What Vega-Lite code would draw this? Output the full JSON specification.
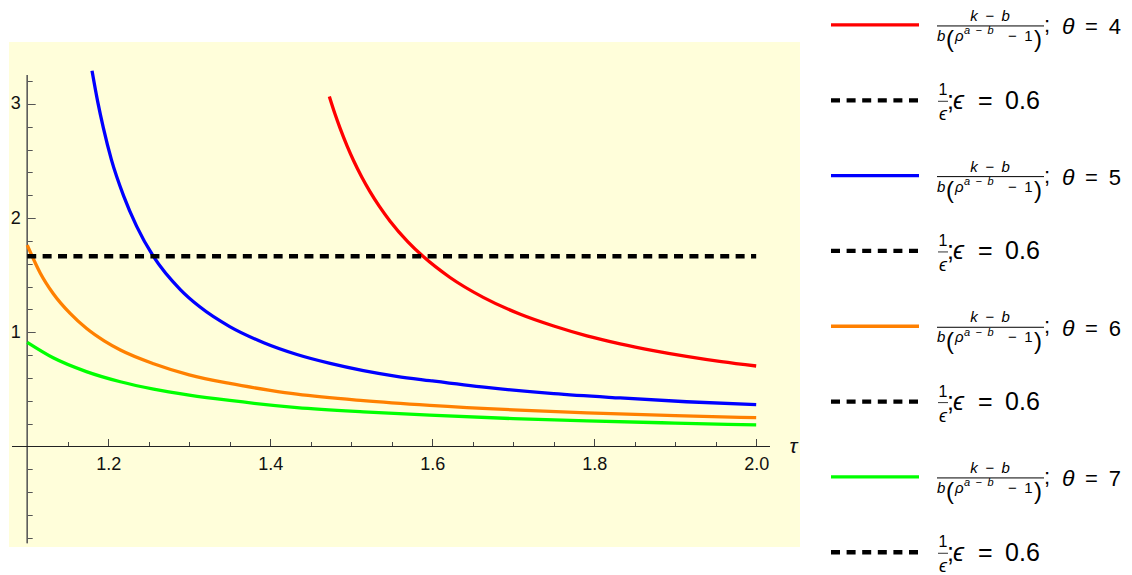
{
  "$schema": "https://vega.github.io/schema/vega-lite/v6.json",
  "width": 791,
  "height": 505,
  "autosize": {"type": "none"},
  "padding": {"left": 9, "top": 42, "right": 332, "bottom": 28},
  "background": "#FFFFFF",
  "view": {"fill": "#FFFEDA", "stroke": null},
  "config": {
    "font": "Liberation Sans",
    "axis": {"grid": false},
    "text": {"font": "Liberation Sans", "color": "#000000"}
  },
  "datasets": {
    "curves": [
      {"tau": 1.473, "value": 3.065, "series": "θ = 4"},
      {"tau": 1.480, "value": 2.911, "series": "θ = 4"},
      {"tau": 1.486, "value": 2.792, "series": "θ = 4"},
      {"tau": 1.495, "value": 2.63, "series": "θ = 4"},
      {"tau": 1.503, "value": 2.502, "series": "θ = 4"},
      {"tau": 1.513, "value": 2.36, "series": "θ = 4"},
      {"tau": 1.523, "value": 2.234, "series": "θ = 4"},
      {"tau": 1.535, "value": 2.10, "series": "θ = 4"},
      {"tau": 1.548, "value": 1.973, "series": "θ = 4"},
      {"tau": 1.570, "value": 1.792, "series": "θ = 4"},
      {"tau": 1.589, "value": 1.663, "series": "θ = 4"},
      {"tau": 1.622, "value": 1.48, "series": "θ = 4"},
      {"tau": 1.663, "value": 1.306, "series": "θ = 4"},
      {"tau": 1.708, "value": 1.16, "series": "θ = 4"},
      {"tau": 1.750, "value": 1.055, "series": "θ = 4"},
      {"tau": 1.791, "value": 0.969, "series": "θ = 4"},
      {"tau": 1.832, "value": 0.899, "series": "θ = 4"},
      {"tau": 1.873, "value": 0.84, "series": "θ = 4"},
      {"tau": 1.914, "value": 0.789, "series": "θ = 4"},
      {"tau": 1.957, "value": 0.743, "series": "θ = 4"},
      {"tau": 2.000, "value": 0.705, "series": "θ = 4"},
      {"tau": 1.180, "value": 3.29, "series": "θ = 5"},
      {"tau": 1.187, "value": 3.02, "series": "θ = 5"},
      {"tau": 1.194, "value": 2.79, "series": "θ = 5"},
      {"tau": 1.204, "value": 2.51, "series": "θ = 5"},
      {"tau": 1.219, "value": 2.195, "series": "θ = 5"},
      {"tau": 1.235, "value": 1.93, "series": "θ = 5"},
      {"tau": 1.256, "value": 1.662, "series": "θ = 5"},
      {"tau": 1.289, "value": 1.374, "series": "θ = 5"},
      {"tau": 1.313, "value": 1.223, "series": "θ = 5"},
      {"tau": 1.350, "value": 1.05, "series": "θ = 5"},
      {"tau": 1.392, "value": 0.909, "series": "θ = 5"},
      {"tau": 1.433, "value": 0.806, "series": "θ = 5"},
      {"tau": 1.474, "value": 0.728, "series": "θ = 5"},
      {"tau": 1.515, "value": 0.665, "series": "θ = 5"},
      {"tau": 1.556, "value": 0.615, "series": "θ = 5"},
      {"tau": 1.597, "value": 0.577, "series": "θ = 5"},
      {"tau": 1.667, "value": 0.517, "series": "θ = 5"},
      {"tau": 1.750, "value": 0.463, "series": "θ = 5"},
      {"tau": 1.832, "value": 0.425, "series": "θ = 5"},
      {"tau": 1.914, "value": 0.392, "series": "θ = 5"},
      {"tau": 2.000, "value": 0.366, "series": "θ = 5"},
      {"tau": 1.100, "value": 1.764, "series": "θ = 6"},
      {"tau": 1.116, "value": 1.52, "series": "θ = 6"},
      {"tau": 1.132, "value": 1.34, "series": "θ = 6"},
      {"tau": 1.153, "value": 1.165, "series": "θ = 6"},
      {"tau": 1.173, "value": 1.035, "series": "θ = 6"},
      {"tau": 1.195, "value": 0.925, "series": "θ = 6"},
      {"tau": 1.215, "value": 0.845, "series": "θ = 6"},
      {"tau": 1.256, "value": 0.725, "series": "θ = 6"},
      {"tau": 1.300, "value": 0.628, "series": "θ = 6"},
      {"tau": 1.350, "value": 0.552, "series": "θ = 6"},
      {"tau": 1.400, "value": 0.492, "series": "θ = 6"},
      {"tau": 1.433, "value": 0.458, "series": "θ = 6"},
      {"tau": 1.515, "value": 0.401, "series": "θ = 6"},
      {"tau": 1.597, "value": 0.360, "series": "θ = 6"},
      {"tau": 1.700, "value": 0.321, "series": "θ = 6"},
      {"tau": 1.791, "value": 0.295, "series": "θ = 6"},
      {"tau": 1.900, "value": 0.270, "series": "θ = 6"},
      {"tau": 2.000, "value": 0.252, "series": "θ = 6"},
      {"tau": 1.100, "value": 0.912, "series": "θ = 7"},
      {"tau": 1.132, "value": 0.777, "series": "θ = 7"},
      {"tau": 1.173, "value": 0.656, "series": "θ = 7"},
      {"tau": 1.215, "value": 0.567, "series": "θ = 7"},
      {"tau": 1.256, "value": 0.502, "series": "θ = 7"},
      {"tau": 1.300, "value": 0.450, "series": "θ = 7"},
      {"tau": 1.350, "value": 0.403, "series": "θ = 7"},
      {"tau": 1.433, "value": 0.341, "series": "θ = 7"},
      {"tau": 1.515, "value": 0.303, "series": "θ = 7"},
      {"tau": 1.597, "value": 0.274, "series": "θ = 7"},
      {"tau": 1.700, "value": 0.244, "series": "θ = 7"},
      {"tau": 1.791, "value": 0.224, "series": "θ = 7"},
      {"tau": 1.900, "value": 0.205, "series": "θ = 7"},
      {"tau": 2.000, "value": 0.189, "series": "θ = 7"}
    ],
    "eps": [
      {"tau": 1.1, "value": 1.6667},
      {"tau": 2.0, "value": 1.6667}
    ],
    "legend": [
      {"entry": 0, "kind": "curve", "series": "θ = 4", "eq": "=\u20024"},
      {"entry": 1, "kind": "eps", "series": "1/ϵ", "eq": "=\u20020.6"},
      {"entry": 2, "kind": "curve", "series": "θ = 5", "eq": "=\u20025"},
      {"entry": 3, "kind": "eps", "series": "1/ϵ", "eq": "=\u20020.6"},
      {"entry": 4, "kind": "curve", "series": "θ = 6", "eq": "=\u20026"},
      {"entry": 5, "kind": "eps", "series": "1/ϵ", "eq": "=\u20020.6"},
      {"entry": 6, "kind": "curve", "series": "θ = 7", "eq": "=\u20027"},
      {"entry": 7, "kind": "eps", "series": "1/ϵ", "eq": "=\u20020.6"}
    ]
  },
  "layer": [
    {
      "layer": [
        {
          "data": {"name": "eps"},
          "mark": {"type": "rule", "color": "#5a5a5a", "strokeWidth": 1.2},
          "encoding": {
            "x": {"datum": 1.1, "type": "quantitative", "axis": null},
            "y": {"datum": -0.848, "type": "quantitative", "axis": null},
            "y2": {"datum": 3.253}
          }
        },
        {
          "data": {"name": "eps"},
          "mark": {"type": "rule", "color": "#222222", "strokeWidth": 1.1},
          "encoding": {
            "x": {"datum": 1.0812, "type": "quantitative", "axis": null},
            "x2": {"datum": 2.017},
            "y": {"datum": 0, "type": "quantitative", "axis": null}
          }
        },
        {
          "data": {"name": "curves"},
          "mark": {"type": "line", "strokeWidth": 3.3, "interpolate": "monotone"},
          "encoding": {
            "x": {
              "field": "tau", "type": "quantitative",
              "scale": {"domain": [1.0775, 2.0541], "nice": false, "zero": false},
              "axis": {
                "orient": "bottom",
                "offset": -100.5,
                "domain": false,
                "values": [1.2, 1.4, 1.6, 1.8, 2.0],
                "format": ".1f",
                "tickSize": -8,
                "tickColor": "#444444",
                "tickWidth": 1,
                "labelFont": "Liberation Sans",
                "labelFontSize": 18,
                "labelColor": "#111111",
                "labelPadding": 16.5,
                "labelFlush": false,
                "labelOverlap": false,
                "labelBaseline": "top",
                "title": "τ",
                "titleFont": "Liberation Sans",
                "titleFontSize": 21,
                "titleFontStyle": "italic",
                "titleFontWeight": "normal",
                "titleColor": "#111111",
                "titleAlign": "center",
                "titleBaseline": "alphabetic",
                "titleX": 784,
                "titleY": 6.2
              }
            },
            "y": {
              "field": "value", "type": "quantitative",
              "scale": {"domain": [-0.880, 3.542], "nice": false, "zero": false},
              "axis": {
                "orient": "left",
                "offset": -18.2,
                "domain": false,
                "values": [1, 2, 3],
                "format": "d",
                "tickSize": -8,
                "tickColor": "#555555",
                "tickWidth": 1,
                "labelFont": "Liberation Sans",
                "labelFontSize": 18,
                "labelColor": "#111111",
                "labelPadding": 15,
                "labelFlush": false,
                "labelOverlap": false,
                "labelAlign": "right",
                "labelBaseline": "middle",
                "title": null
              }
            },
            "color": {
              "field": "series", "type": "nominal",
              "scale": {"domain": ["θ = 4", "θ = 5", "θ = 6", "θ = 7"], "range": ["#FF0000", "#0000FF", "#FF8000", "#00FF00"]},
              "legend": null
            }
          }
        },
        {
          "data": {"name": "eps"},
          "mark": {"type": "line", "color": "#000000", "strokeWidth": 4.5, "strokeDash": [9, 6.4]},
          "encoding": {
            "x": {
              "field": "tau", "type": "quantitative",
              "axis": {
                "orient": "bottom",
                "offset": -100.5,
                "domain": false,
                "values": [1.15, 1.25, 1.3, 1.35, 1.45, 1.5, 1.55, 1.65, 1.7, 1.75, 1.85, 1.9, 1.95],
                "tickSize": -5,
                "tickColor": "#444444",
                "tickWidth": 1,
                "labels": false,
                "title": null
              }
            },
            "y": {
              "field": "value", "type": "quantitative",
              "axis": {
                "orient": "left",
                "offset": -18.2,
                "domain": false,
                "values": [-0.8, -0.6, -0.4, -0.2, 0.2, 0.4, 0.6, 0.8, 1.2, 1.4, 1.6, 1.8, 2.2, 2.4, 2.6, 2.8, 3.2],
                "tickSize": -5,
                "tickColor": "#555555",
                "tickWidth": 1,
                "labels": false,
                "title": null
              }
            }
          }
        }
      ],
      "resolve": {"axis": {"x": "independent", "y": "independent"}}
    },
    {
      "data": {"name": "legend"},
      "encoding": {
        "y": {"field": "entry", "type": "quantitative", "scale": {"domain": [0.2263, 6.9301], "reverse": true, "nice": false, "zero": false}, "axis": null}
      },
      "layer": [
        {
          "transform": [{"filter": "datum.kind == 'curve'"}],
          "mark": {"type": "rule", "strokeWidth": 3.3},
          "encoding": {
            "x": {"datum": 831, "type": "quantitative", "scale": {"domain": [9, 800], "nice": false, "zero": false}, "axis": null},
            "x2": {"datum": 919},
            "color": {"field": "series", "type": "nominal", "legend": null}
          }
        },
        {
          "transform": [{"filter": "datum.kind == 'eps'"}],
          "mark": {"type": "rule", "strokeWidth": 4.3, "color": "#000000", "strokeDash": [9, 6.6]},
          "encoding": {
            "x": {"datum": 831, "type": "quantitative", "scale": {"domain": [9, 800], "nice": false, "zero": false}, "axis": null},
            "x2": {"datum": 919}
          }
        },
        {
          "transform": [{"filter": "datum.kind == 'curve'"}],
          "mark": {"type": "text", "text": "k\u2002−\u2002b", "align": "center", "baseline": "alphabetic", "dy": -4, "fontSize": 15, "fontStyle": "italic"},
          "encoding": {"x": {"datum": 990, "type": "quantitative", "scale": {"domain": [9, 800], "nice": false, "zero": false}, "axis": null}}
        },
        {
          "transform": [{"filter": "datum.kind == 'curve'"}],
          "mark": {"type": "rule", "strokeWidth": 1, "color": "#000000", "yOffset": 1},
          "encoding": {
            "x": {"datum": 937, "type": "quantitative", "scale": {"domain": [9, 800], "nice": false, "zero": false}, "axis": null},
            "x2": {"datum": 1044}
          }
        },
        {
          "transform": [{"filter": "datum.kind == 'curve'"}],
          "mark": {"type": "text", "text": "b", "align": "left", "baseline": "alphabetic", "dy": 16, "fontSize": 15, "fontStyle": "italic"},
          "encoding": {"x": {"datum": 937, "type": "quantitative", "scale": {"domain": [9, 800], "nice": false, "zero": false}, "axis": null}}
        },
        {
          "transform": [{"filter": "datum.kind == 'curve'"}],
          "mark": {"type": "text", "text": "(", "align": "left", "baseline": "alphabetic", "dy": 22.5, "fontSize": 24},
          "encoding": {"x": {"datum": 946, "type": "quantitative", "scale": {"domain": [9, 800], "nice": false, "zero": false}, "axis": null}}
        },
        {
          "transform": [{"filter": "datum.kind == 'curve'"}],
          "mark": {"type": "text", "text": "ρ", "align": "left", "baseline": "alphabetic", "dy": 16, "fontSize": 15, "fontStyle": "italic"},
          "encoding": {"x": {"datum": 955, "type": "quantitative", "scale": {"domain": [9, 800], "nice": false, "zero": false}, "axis": null}}
        },
        {
          "transform": [{"filter": "datum.kind == 'curve'"}],
          "mark": {"type": "text", "text": "a\u2002−\u2002b", "align": "left", "baseline": "alphabetic", "dy": 9.3, "fontSize": 11, "fontStyle": "italic"},
          "encoding": {"x": {"datum": 964, "type": "quantitative", "scale": {"domain": [9, 800], "nice": false, "zero": false}, "axis": null}}
        },
        {
          "transform": [{"filter": "datum.kind == 'curve'"}],
          "mark": {"type": "text", "text": "−\u20021", "align": "left", "baseline": "alphabetic", "dy": 16, "fontSize": 15},
          "encoding": {"x": {"datum": 1008, "type": "quantitative", "scale": {"domain": [9, 800], "nice": false, "zero": false}, "axis": null}}
        },
        {
          "transform": [{"filter": "datum.kind == 'curve'"}],
          "mark": {"type": "text", "text": ")", "align": "left", "baseline": "alphabetic", "dy": 22.5, "fontSize": 24},
          "encoding": {"x": {"datum": 1034, "type": "quantitative", "scale": {"domain": [9, 800], "nice": false, "zero": false}, "axis": null}}
        },
        {
          "transform": [{"filter": "datum.kind == 'curve'"}],
          "mark": {"type": "text", "text": ";", "align": "left", "baseline": "alphabetic", "dy": 7, "fontSize": 22},
          "encoding": {"x": {"datum": 1044, "type": "quantitative", "scale": {"domain": [9, 800], "nice": false, "zero": false}, "axis": null}}
        },
        {
          "transform": [{"filter": "datum.kind == 'curve'"}],
          "mark": {"type": "text", "text": "θ", "align": "left", "baseline": "alphabetic", "dy": 9.3, "fontSize": 23, "fontStyle": "italic"},
          "encoding": {"x": {"datum": 1062, "type": "quantitative", "scale": {"domain": [9, 800], "nice": false, "zero": false}, "axis": null}}
        },
        {
          "transform": [{"filter": "datum.kind == 'curve'"}],
          "mark": {"type": "text", "align": "left", "baseline": "alphabetic", "dy": 9.3, "fontSize": 22},
          "encoding": {
            "x": {"datum": 1085, "type": "quantitative", "scale": {"domain": [9, 800], "nice": false, "zero": false}, "axis": null},
            "text": {"field": "eq"}
          }
        },
        {
          "transform": [{"filter": "datum.kind == 'eps'"}],
          "mark": {"type": "text", "text": "1", "align": "center", "baseline": "alphabetic", "dy": -5, "fontSize": 16},
          "encoding": {"x": {"datum": 943, "type": "quantitative", "scale": {"domain": [9, 800], "nice": false, "zero": false}, "axis": null}}
        },
        {
          "transform": [{"filter": "datum.kind == 'eps'"}],
          "mark": {"type": "rule", "strokeWidth": 0.8, "color": "#000000", "yOffset": 1},
          "encoding": {
            "x": {"datum": 938, "type": "quantitative", "scale": {"domain": [9, 800], "nice": false, "zero": false}, "axis": null},
            "x2": {"datum": 948}
          }
        },
        {
          "transform": [{"filter": "datum.kind == 'eps'"}],
          "mark": {"type": "text", "text": "ϵ", "align": "center", "baseline": "alphabetic", "dy": 20, "fontSize": 18, "fontStyle": "italic"},
          "encoding": {"x": {"datum": 943, "type": "quantitative", "scale": {"domain": [9, 800], "nice": false, "zero": false}, "axis": null}}
        },
        {
          "transform": [{"filter": "datum.kind == 'eps'"}],
          "mark": {"type": "text", "text": ";", "align": "left", "baseline": "alphabetic", "dy": 8.4, "fontSize": 25},
          "encoding": {"x": {"datum": 947, "type": "quantitative", "scale": {"domain": [9, 800], "nice": false, "zero": false}, "axis": null}}
        },
        {
          "transform": [{"filter": "datum.kind == 'eps'"}],
          "mark": {"type": "text", "text": "ϵ", "align": "left", "baseline": "alphabetic", "dy": 8.4, "fontSize": 25, "fontStyle": "italic"},
          "encoding": {"x": {"datum": 953, "type": "quantitative", "scale": {"domain": [9, 800], "nice": false, "zero": false}, "axis": null}}
        },
        {
          "transform": [{"filter": "datum.kind == 'eps'"}],
          "mark": {"type": "text", "align": "left", "baseline": "alphabetic", "dy": 8.4, "fontSize": 25},
          "encoding": {
            "x": {"datum": 978, "type": "quantitative", "scale": {"domain": [9, 800], "nice": false, "zero": false}, "axis": null},
            "text": {"field": "eq"}
          }
        }
      ]
    }
  ],
  "resolve": {"scale": {"x": "independent", "y": "independent"}}
}
